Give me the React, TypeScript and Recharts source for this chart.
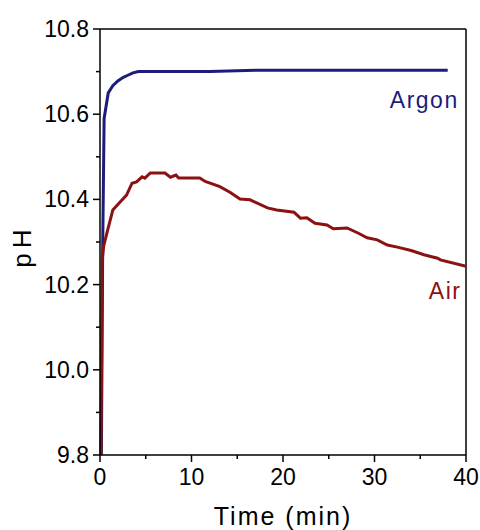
import { LineChart, Line, XAxis, YAxis, ReferenceLine, ReferenceDot, Label } from "recharts";

const FONT = "'Liberation Sans', Arial, sans-serif";

// Argon run (time in min, pH)
const argonTime = [0.15, 0.3, 0.45, 0.9, 1.4, 1.95, 2.5, 3.1, 3.6, 4.2, 5, 8, 12, 15, 17, 20, 25, 30, 35, 38];
const argonPH = [9.8, 10.3, 10.59, 10.65, 10.667, 10.678, 10.686, 10.692, 10.697, 10.7, 10.7, 10.7, 10.7, 10.702, 10.703, 10.703, 10.703, 10.703, 10.703, 10.703];

// Air run
const airTime = [
    0.1, 0.25, 0.4, 0.8, 1.4, 2.2, 2.9, 3.5, 4.0, 4.6, 4.9, 5.5, 7.1, 7.7, 8.3, 8.6, 9.4, 10.9, 11.5,
    13.1, 14.2, 15.3, 16.4, 18.3, 19.3, 21.2, 21.9, 22.6, 23.5, 24.8, 25.5, 27.0, 28.3, 29.2, 30.3,
    31.4, 32.5, 34.0, 35.4, 36.9, 37.2, 40,
];
const airPH = [
    9.8, 10.26, 10.29, 10.325, 10.375, 10.394, 10.41, 10.438, 10.441, 10.453, 10.45, 10.462, 10.462,
    10.452, 10.457, 10.45, 10.45, 10.45, 10.442, 10.43, 10.417, 10.401, 10.399, 10.38, 10.375, 10.37,
    10.356, 10.357, 10.344, 10.34, 10.331, 10.333, 10.32, 10.31, 10.305, 10.293, 10.288, 10.28, 10.27,
    10.262, 10.258, 10.243,
];

const xTicks = [0, 5, 10, 15, 20, 25, 30, 35, 40];
const yTicks = [9.8, 9.9, 10.0, 10.1, 10.2, 10.3, 10.4, 10.5, 10.6, 10.7, 10.8];

const argonData = argonTime.map((t, i) => ({ t, ph: argonPH[i] }));
const airData = airTime.map((t, i) => ({ t, ph: airPH[i] }));

const ARGON = "#1c1c7c";
const AIR = "#8b1212";

function YTick({ x, y, payload }: { x: number; y: number; payload: { value: number } }) {
    const v = payload.value;
    const major = Math.round(v * 10) % 2 === 0;
    return (
        <g>
            <line x1={x} x2={x - (major ? 7 : 4)} y1={y} y2={y} stroke="#000" strokeWidth={1.5} />
            {major && (
                <text x={x - 11} y={y} textAnchor="end" dominantBaseline="central" fontSize={23} fill="#000" fontFamily={FONT}>
                    {v.toFixed(1)}
                </text>
            )}
        </g>
    );
}

function XTick({ x, y, payload }: { x: number; y: number; payload: { value: number } }) {
    const v = payload.value;
    const major = v % 10 === 0;
    return (
        <g>
            <line x1={x} x2={x} y1={y} y2={y + (major ? 7 : 4)} stroke="#000" strokeWidth={1.5} />
            {major && (
                <text x={x} y={y + 30} textAnchor="middle" fontSize={23} fill="#000" fontFamily={FONT}>
                    {v}
                </text>
            )}
        </g>
    );
}

const annotation = (text: string, color: string) => (props: any) => {
    const { viewBox } = props;
    return (
        <text x={viewBox.x} y={viewBox.y} textAnchor="end" fontSize={23} letterSpacing={1.5} fill={color} fontFamily={FONT}>
            {text}
        </text>
    );
};

export default function App() {
    return (
        <div style={{ position: "absolute", left: 0, top: 0, background: "#fff" }}>
            <LineChart width={480} height={530} margin={{ top: 29, right: 14, bottom: 0, left: 0 }}>
                <XAxis
                    type="number"
                    dataKey="t"
                    domain={[0, 40]}
                    ticks={xTicks}
                    interval={0}
                    height={75}
                    tickSize={0}
                    tickMargin={0}
                    tickLine={false}
                    axisLine={{ stroke: "#000", strokeWidth: 1.5 }}
                    tick={XTick as any}
                >
                    <Label
                        content={(props: any) => {
                            const vb = props.viewBox;
                            return (
                                <text x={vb.x + vb.width / 2} y={vb.y + 70} textAnchor="middle" fontSize={25} letterSpacing={2} fill="#000" fontFamily={FONT}>
                                    Time (min)
                                </text>
                            );
                        }}
                    />
                </XAxis>
                <YAxis
                    type="number"
                    dataKey="ph"
                    domain={[9.8, 10.8]}
                    ticks={yTicks}
                    interval={0}
                    width={100}
                    tickSize={0}
                    tickMargin={0}
                    tickLine={false}
                    axisLine={{ stroke: "#000", strokeWidth: 1.5 }}
                    tick={YTick as any}
                >
                    <Label
                        content={(props: any) => {
                            const vb = props.viewBox;
                            const cx = vb.x + 22;
                            const cy = vb.y + vb.height / 2 + 4;
                            return (
                                <text x={cx} y={cy} transform={`rotate(-90, ${cx}, ${cy})`} textAnchor="middle" dominantBaseline="central" fontSize={26} letterSpacing={5} fill="#000" fontFamily={FONT}>
                                    pH
                                </text>
                            );
                        }}
                    />
                </YAxis>
                <ReferenceLine y={10.8} stroke="#000" strokeWidth={1.5} />
                <ReferenceLine x={40} stroke="#000" strokeWidth={1.5} />
                <Line data={argonData} dataKey="ph" type="linear" stroke={ARGON} strokeWidth={3} dot={false} isAnimationActive={false} />
                <Line data={airData} dataKey="ph" type="linear" stroke={AIR} strokeWidth={3} dot={false} isAnimationActive={false} />
                <ReferenceDot x={39.2} y={10.615} r={0} fill="none" stroke="none" label={annotation("Argon", ARGON)} />
                <ReferenceDot x={39.5} y={10.166} r={0} fill="none" stroke="none" label={annotation("Air", AIR)} />
            </LineChart>
        </div>
    );
}
